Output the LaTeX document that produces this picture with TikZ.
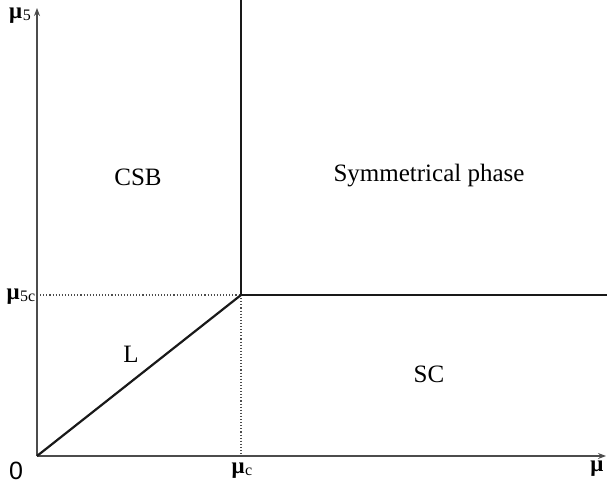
\documentclass[tikz,border=0pt]{standalone}
\usepackage{fontspec}
\setmainfont{Liberation Serif}
\newfontfamily\sansf{Liberation Sans}
\usetikzlibrary{arrows.meta}
\begin{document}
\begin{tikzpicture}[x=1pt,y=-1pt,
  axis/.style={draw=black!70,line width=1.3pt,-{Stealth[length=8pt,width=6pt]}},
  border/.style={draw=black!90,line width=2.2pt},
  guide/.style={draw=black!70,line width=1.1pt,dotted},
  region/.style={font=\fontsize{25}{27}\selectfont},
  ticklab/.style={font=\bfseries\fontsize{23}{25}\selectfont,inner sep=0pt}]
\useasboundingbox (0,0) rectangle (607,489);
\coordinate (O) at (37,456);
\coordinate (ytop) at (37,8);
\coordinate (xend) at (606,456);
\coordinate (T) at (241,295);
\coordinate (Ttop) at (241,0);
\coordinate (Tright) at (607,295);
\coordinate (Ty) at (37,295);
\coordinate (Tx) at (241,456);
\draw[guide] (Ty) -- (T);
\draw[guide] (T) -- (Tx);
\draw[axis] (O) -- (ytop);
\draw[axis] (O) -- (xend);
\draw[border] (O) -- (T);
\draw[border] (T) -- (Ttop);
\draw[border] (T) -- (Tright);
\node[ticklab] (lmu5) at (20,16) {μ\kern0.5pt\raisebox{-2pt}{\mdseries\fontsize{16}{16}\selectfont 5}};
\node[ticklab] (lmu5c) at (21,297) {μ\kern0.5pt\raisebox{-2pt}{\mdseries\fontsize{16}{16}\selectfont 5c}};
\node[ticklab,font=\sansf\fontsize{25}{27}\selectfont] (lzero) at (16,471) {0};
\node[ticklab] (lmuc) at (242,471) {μ\kern0.5pt\raisebox{-2pt}{\mdseries\fontsize{16}{16}\selectfont c}};
\node[ticklab] (lmu) at (597,469) {μ};
\node[region] (csb) at (138,177) {CSB};
\node[region] (sym) at (429,176) {Symmetrical phase};
\node[region] (lreg) at (131,354) {L};
\node[region] (sc) at (429,374) {SC};
\end{tikzpicture}
\end{document}
